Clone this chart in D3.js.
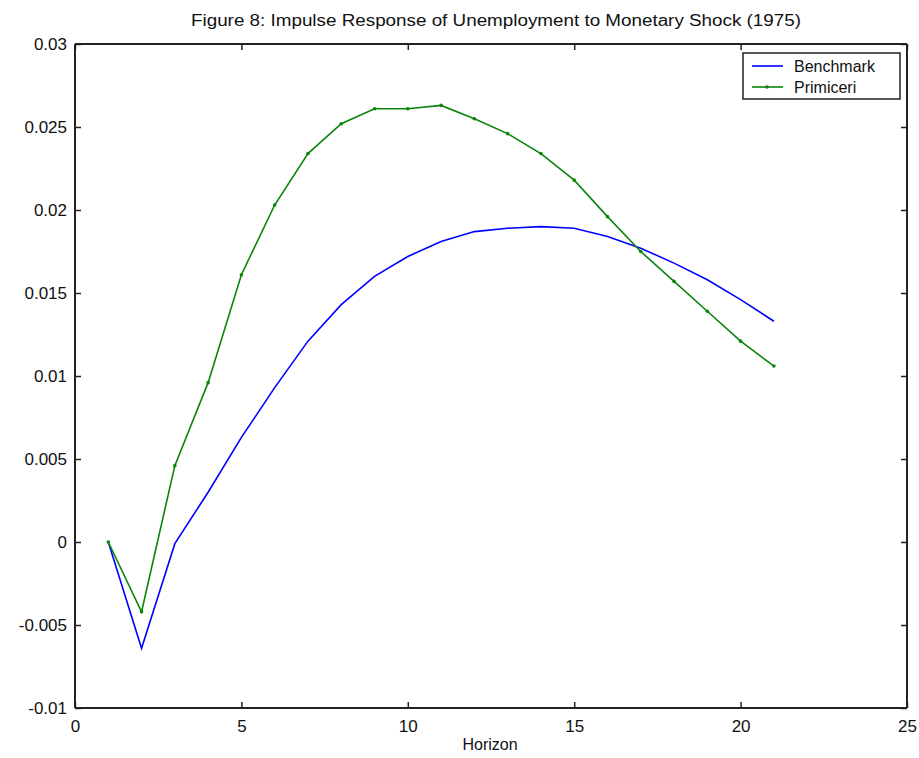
<!DOCTYPE html>
<html><head><meta charset="utf-8">
<script src="https://cdn.jsdelivr.net/npm/d3@7"></script>
<style>body{margin:0;background:#fff}svg{display:block}text{font-family:"Liberation Sans",Arial,sans-serif;fill:#111}</style>
</head><body>
<script>
const horizon = d3.range(1, 22);
const benchmark = [0, -0.0064, -0.0001, 0.0030, 0.0063, 0.0093, 0.0121, 0.0143, 0.0160, 0.0172, 0.0181, 0.0187, 0.0189, 0.0190, 0.0189, 0.0184, 0.0177, 0.0168, 0.0158, 0.0146, 0.0133];
const primiceri = [0, -0.0042, 0.0046, 0.0096, 0.0161, 0.0203, 0.0234, 0.0252, 0.0261, 0.0261, 0.0263, 0.0255, 0.0246, 0.0234, 0.0218, 0.0196, 0.0175, 0.0157, 0.0139, 0.0121, 0.0106];
const xTicks = [0, 5, 10, 15, 20, 25];
const yTicks = [-0.01, -0.005, 0, 0.005, 0.01, 0.015, 0.02, 0.025, 0.03];
const yTickLabels = ["-0.01", "-0.005", "0", "0.005", "0.01", "0.015", "0.02", "0.025", "0.03"];
const seriesNames = ["Benchmark", "Primiceri"];
const colors = ["#0000ff", "#0a850a"];

const W = 919, H = 758;
const L = 75, R = 907, T = 44, B = 708;
const svg = d3.select("body").append("svg").attr("width", W).attr("height", H);
const x = d3.scaleLinear().domain([0, 25]).range([L, R]);
const y = d3.scaleLinear().domain([-0.01, 0.03]).range([B, T]);

svg.append("text").attr("x", 496).attr("y", 26).attr("text-anchor", "middle")
  .attr("font-size", 16).attr("textLength", 610).attr("lengthAdjust", "spacingAndGlyphs")
  .text("Figure 8: Impulse Response of Unemployment to Monetary Shock (1975)");

const axisColor = "#222";
const tl = 6;
const gx = svg.append("g").attr("transform", `translate(0,${B})`)
  .call(d3.axisBottom(x).tickValues(xTicks).tickSize(-tl).tickPadding(12).tickFormat(d3.format("d")));
const gxt = svg.append("g").attr("transform", `translate(0,${T})`)
  .call(d3.axisTop(x).tickValues(xTicks).tickSize(-tl).tickFormat(""));
const gy = svg.append("g").attr("transform", `translate(${L},0)`)
  .call(d3.axisLeft(y).tickValues(yTicks).tickSize(-tl).tickPadding(8).tickFormat((d, i) => yTickLabels[i]));
const gyr = svg.append("g").attr("transform", `translate(${R},0)`)
  .call(d3.axisRight(y).tickValues(yTicks).tickSize(-tl).tickFormat(""));
[gx, gxt, gy, gyr].forEach(g => {
  g.selectAll(".domain").attr("stroke", axisColor).attr("stroke-width", 2);
  g.selectAll(".tick line").attr("stroke", axisColor).attr("stroke-width", 1.5);
  g.selectAll("text").attr("font-size", 17).attr("fill", "#111").attr("font-family", "Liberation Sans, Arial, sans-serif");
});
gx.selectAll(".domain").attr("d", `M${L},0H${R}`);
gxt.selectAll(".domain").attr("d", `M${L},0H${R}`);
gy.selectAll(".domain").attr("d", `M0,${T}V${B}`);
gyr.selectAll(".domain").attr("d", `M0,${T}V${B}`);

svg.append("text").attr("x", 490).attr("y", 750).attr("text-anchor", "middle")
  .attr("font-size", 16).text("Horizon");

const line = d3.line().x((d, i) => x(horizon[i])).y(d => y(d));
[benchmark, primiceri].forEach((s, k) => {
  svg.append("path").datum(s).attr("d", line).attr("fill", "none")
    .attr("stroke", colors[k]).attr("stroke-width", 1.6);
});
svg.append("g").selectAll("circle").data(primiceri).join("circle")
  .attr("cx", (d, i) => x(horizon[i])).attr("cy", d => y(d)).attr("r", 1.8).attr("fill", colors[1]);

const lg = svg.append("g");
lg.append("rect").attr("x", 743).attr("y", 53).attr("width", 157).attr("height", 46)
  .attr("fill", "#fff").attr("stroke", axisColor).attr("stroke-width", 1.5);
seriesNames.forEach((n, k) => {
  const yy = 66 + k * 21;
  lg.append("line").attr("x1", 752).attr("x2", 783).attr("y1", yy).attr("y2", yy)
    .attr("stroke", colors[k]).attr("stroke-width", 1.6);
  if (k === 1) lg.append("circle").attr("cx", 767).attr("cy", yy).attr("r", 1.8).attr("fill", colors[k]);
  lg.append("text").attr("x", 794).attr("y", yy + 6).attr("font-size", 16).text(n);
});
</script>
</body></html>
